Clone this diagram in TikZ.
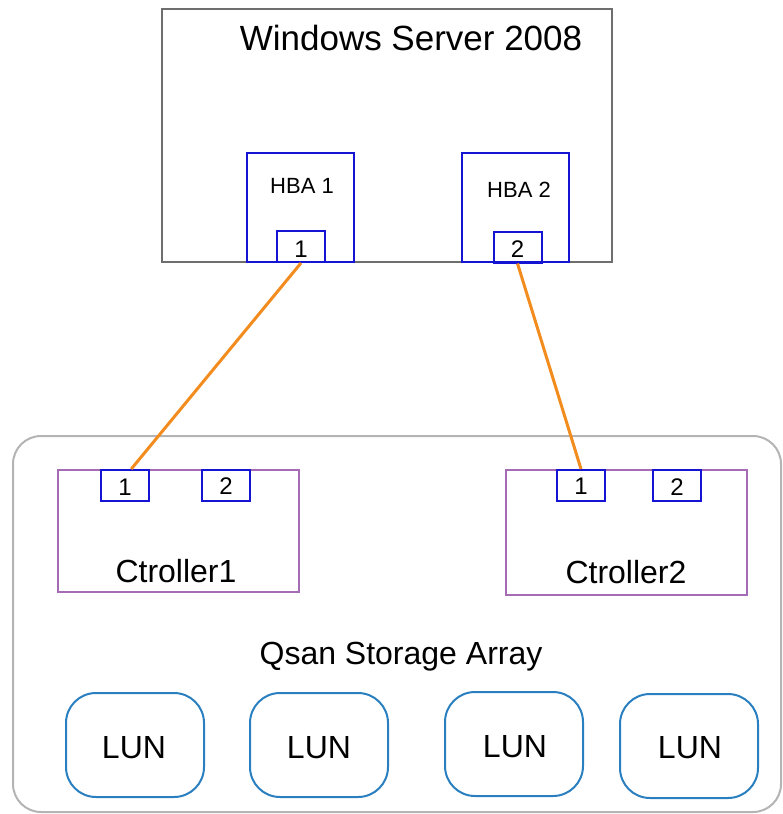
\documentclass[tikz,border=0pt]{standalone}
\usepackage{fontspec}
\setmainfont{Liberation Sans}
\usetikzlibrary{calc}
\definecolor{servergray}{HTML}{6E6E6E}
\definecolor{hbablue}{HTML}{1414D2}
\definecolor{ctrlpurple}{HTML}{A66BB5}
\definecolor{storegray}{HTML}{B4B4B4}
\definecolor{lunblue}{HTML}{2A7FC0}
\definecolor{linkorange}{HTML}{F28C1E}
\begin{document}
\begin{tikzpicture}[x=1pt,y=-1pt,
  box/.style={draw, rectangle, inner sep=0pt, line width=2pt},
  serverbox/.style={box, draw=servergray},
  hbabox/.style={box, draw=hbablue, minimum width=107pt, minimum height=109pt},
  portbox/.style={box, draw=hbablue, minimum width=48pt, minimum height=31pt},
  ctrlbox/.style={box, draw=ctrlpurple, minimum width=241pt},
  storebox/.style={box, draw=storegray, rounded corners=28pt},
  lunbox/.style={box, draw=lunblue, rounded corners=30pt, minimum width=138pt, minimum height=104pt},
  txt/.style={inner sep=0pt, anchor=base},
  big/.style={txt, font=\fontsize{35}{41}\selectfont},
  mid/.style={txt, font=\fontsize{32}{38}\selectfont},
  small/.style={txt, font=\fontsize{22}{26}\selectfont},
  digit/.style={txt, font=\fontsize{24}{28}\selectfont},
  link/.style={draw=linkorange, line width=3pt}
]
\useasboundingbox (0,0) rectangle (783,814);

% storage array
\node[storebox, minimum width=768pt, minimum height=376pt] (store) at (397,624) {};

% server
\node[serverbox, minimum width=450pt, minimum height=253pt] (server) at (387,135.5) {};
\node[big] (title) at (411,50) {Windows Server 2008};

\node[hbabox] (hba1) at (300.5,207.5) {};
\node[hbabox] (hba2) at (515.5,207.5) {};
\node[small] (hba1t) at (302,193) {HBA 1};
\node[small] (hba2t) at (519,197) {HBA 2};
\node[portbox] (h1p) at (301,246.5) {};
\node[portbox] (h2p) at (517.5,247) {};
\node[digit] (h1pt) at (301,257) {1};
\node[digit] (h2pt) at (517.5,257) {2};

% controllers
\node[ctrlbox, minimum height=122pt] (c1) at (178.5,531) {};
\node[ctrlbox, minimum height=125pt] (c2) at (626.5,532.5) {};
\node[portbox] (c1p1) at (125,485.5) {};
\node[portbox] (c1p2) at (226,485.5) {};
\node[portbox] (c2p1) at (581,485.5) {};
\node[portbox] (c2p2) at (677,485.5) {};
\node[digit] (c1p1t) at (125,495) {1};
\node[digit] (c1p2t) at (226,494) {2};
\node[digit] (c2p1t) at (581,494.5) {1};
\node[digit] (c2p2t) at (677,495) {2};
\node[mid] (c1t) at (176,582) {Ctroller1};
\node[mid] (c2t) at (626,583) {Ctroller2};

\node[mid] (storet) at (401,664) {Qsan Storage Array};

% LUNs
\node[lunbox] (lun1) at (135,745) {};
\node[lunbox] (lun2) at (319,745) {};
\node[lunbox] (lun3) at (514,744) {};
\node[lunbox] (lun4) at (689,746) {};
\node[mid] at (134,758) {LUN};
\node[mid] at (319,758) {LUN};
\node[mid] at (515,757) {LUN};
\node[mid] at (690,758) {LUN};

% links
\draw[link] (h1p.south) -- ($(c1p1.north west)!0.625!(c1p1.north east)$);
\draw[link] (h2p.south) -- (c2p1.north);
\end{tikzpicture}
\end{document}
